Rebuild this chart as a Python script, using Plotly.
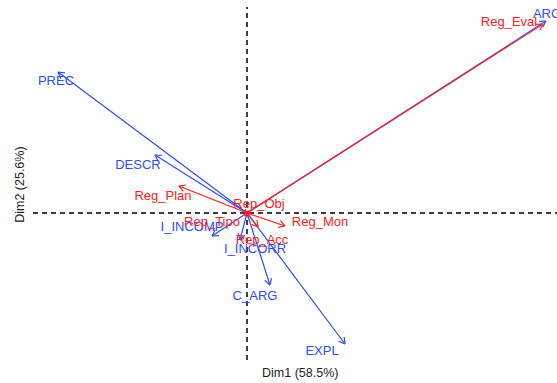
import math
import plotly.graph_objects as go

# variable coordinates (Dim1, Dim2)
blue_vars = ['PREC', 'DESCR', 'ARG', 'I_INCOMP', 'I_INCORR', 'C_ARG', 'EXPL']
blue_x = [-1.89, -0.92, 2.99, -0.35, -0.07, 0.23, 0.98]
blue_y = [1.41, 0.58, 1.92, -0.23, -0.27, -0.72, -1.31]
blue_lab_x = [-1.91, -1.09, 3.00, -0.55, 0.08, 0.08, 0.75]
blue_lab_y = [1.31, 0.47, 1.98, -0.15, -0.37, -0.84, -1.39]

red_vars = ['Reg_Eval', 'Reg_Plan', 'Reg_Mon', 'Rep_Obj', 'Rep_Tipo', 'Rep_Acc']
red_x = [2.96, -0.68, 0.38, 0.03, -0.02, 0.11]
red_y = [1.89, 0.27, -0.13, 0.02, -0.03, -0.14]
red_lab_x = [2.62, -0.84, 0.73, 0.12, -0.35, 0.15]
red_lab_y = [1.90, 0.16, -0.10, 0.08, -0.10, -0.28]

BLUE = '#2d4bff'
RED = '#ff2020'
FONT = 'Liberation Sans, Arial'


def arrow_path(xs, ys, head=0.07, ang=30):
    """shaft + open V head for every vector, separated by None"""
    px, py = [], []
    for x, y in zip(xs, ys):
        px += [0, x, None]
        py += [0, y, None]
        t = math.atan2(y, x)
        for s in (1, -1):
            a = t + math.pi + s * math.radians(ang)
            px += [x, x + head * math.cos(a), None]
            py += [y, y + head * math.sin(a), None]
    return px, py


fig = go.Figure()

bx, by = arrow_path(blue_x, blue_y)
fig.add_trace(go.Scatter(x=bx, y=by, mode='lines',
                         line=dict(color=BLUE, width=1.2), hoverinfo='skip'))
rx, ry = arrow_path(red_x, red_y)
fig.add_trace(go.Scatter(x=rx, y=ry, mode='lines',
                         line=dict(color=RED, width=1.2), hoverinfo='skip'))

fig.add_trace(go.Scatter(x=blue_lab_x, y=blue_lab_y, mode='text', text=blue_vars,
                         textfont=dict(color=BLUE, size=13, family=FONT),
                         cliponaxis=False))
fig.add_trace(go.Scatter(x=red_lab_x, y=red_lab_y, mode='text', text=red_vars,
                         textfont=dict(color=RED, size=13, family=FONT),
                         cliponaxis=False))

# dashed zero lines
dash = dict(color='black', width=1.5, dash='5px,4px')
fig.add_shape(type='line', xref='x', yref='paper', x0=0, x1=0, y0=0, y1=1,
              line=dash, layer='below')
fig.add_shape(type='line', xref='paper', yref='y', x0=0, x1=1, y0=0, y1=0,
              line=dash, layer='below')

fig.add_annotation(text='Dim1 (58.5%)', xref='paper', yref='paper',
                   x=0.51, y=-0.037, xanchor='center', yanchor='middle',
                   showarrow=False,
                   font=dict(size=12.5, color='#222', family=FONT))
fig.add_annotation(text='Dim2 (25.6%)', xref='paper', yref='paper',
                   x=-0.025, y=0.496, xanchor='center', yanchor='middle',
                   showarrow=False, textangle=-90,
                   font=dict(size=12.5, color='#222', family=FONT))

fig.update_layout(
    width=557, height=383,
    margin=dict(l=33, r=0, t=7, b=23),
    plot_bgcolor='white', paper_bgcolor='white',
    showlegend=False,
    xaxis=dict(range=[-2.14, 3.10], visible=False, fixedrange=True),
    yaxis=dict(range=[-1.47, 2.06], visible=False, fixedrange=True),
)

fig.write_html("out.html", config={'displayModeBar': False},
               post_script="document.body.style.margin='0';")
